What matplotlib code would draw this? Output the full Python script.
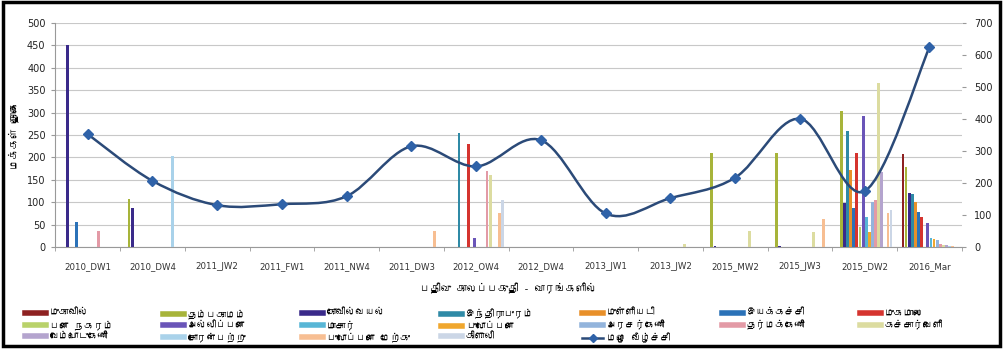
import numpy as np
import matplotlib
matplotlib.use("Agg")
import matplotlib.pyplot as plt
from matplotlib import font_manager
from matplotlib.ft2font import FT2Font
from matplotlib.path import Path
from matplotlib.patches import PathPatch, Rectangle
from matplotlib.lines import Line2D

# ---------------- data ----------------
periods = ["2010_DW1", "2010_DW4", "2011_JW2", "2011_FW1", "2011_NW4", "2011_DW3",
           "2012_OW4", "2012_DW4", "2013_JW1", "2013_JW2", "2015_MW2", "2015_JW3",
           "2015_DW2", "2016_Mar"]

villages = ["முகாவில்", "தம்பகாமம்", "கோவில்வயல்", "இந்திராபுரம்", "முள்ளியடி",
            "இயக்கச்சி", "முகமாலை", "பளை நகரம்", "அல்லிப்பளை", "மாசார்",
            "புலோப்பளை", "அரசர்கேணி", "தர்மக்கேணி", "கச்சார்வெளி",
            "வேம்பொடுகேணி", "சோரன்பற்று", "புலோப்பளை மேற்கு", "கிளாலி"]

mukavil        = [0, 0, 0, 0, 0, 0, 0, 0, 0, 0, 0, 0, 0, 207]
thampakamam    = [0, 107, 0, 0, 0, 0, 0, 0, 0, 0, 210, 210, 304, 178]
kovilvayal     = [450, 88, 0, 0, 0, 0, 0, 0, 0, 0, 3, 3, 98, 121]
inthirapuram   = [0, 0, 0, 0, 0, 0, 255, 0, 0, 0, 0, 0, 258, 119]
mulliyadi      = [0, 0, 0, 0, 0, 0, 0, 0, 0, 0, 0, 0, 172, 100]
iyakachchi     = [55, 0, 0, 0, 0, 0, 0, 0, 0, 0, 0, 0, 87, 78]
muhamalai      = [0, 0, 0, 0, 0, 0, 230, 0, 0, 0, 0, 0, 210, 68]
pallai_town    = [0, 0, 0, 0, 0, 0, 0, 0, 0, 0, 0, 0, 45, 0]
allipalai      = [0, 0, 0, 0, 0, 0, 20, 0, 0, 0, 0, 0, 292, 54]
maasaar        = [0, 0, 0, 0, 0, 0, 0, 0, 0, 0, 0, 0, 68, 21]
pulopalai      = [0, 0, 0, 0, 0, 0, 0, 0, 0, 0, 0, 0, 34, 19]
arasarkerni    = [0, 0, 0, 0, 0, 0, 0, 0, 0, 0, 0, 0, 101, 15]
tharmakerni    = [35, 0, 0, 0, 0, 0, 170, 0, 0, 0, 0, 0, 105, 8]
kacharvely     = [0, 0, 0, 0, 0, 0, 160, 0, 0, 8, 35, 33, 366, 5]
vempodukerni   = [0, 0, 0, 0, 0, 0, 0, 0, 0, 0, 0, 0, 168, 4]
soranpattu     = [0, 203, 0, 0, 0, 0, 0, 0, 0, 0, 0, 0, 0, 3]
pulopalai_west = [0, 0, 0, 0, 0, 37, 76, 0, 0, 0, 0, 62, 77, 2]
kilali         = [0, 0, 0, 0, 0, 0, 105, 0, 0, 0, 0, 0, 82, 1]

series = [mukavil, thampakamam, kovilvayal, inthirapuram, mulliyadi, iyakachchi,
          muhamalai, pallai_town, allipalai, maasaar, pulopalai, arasarkerni,
          tharmakerni, kacharvely, vempodukerni, soranpattu, pulopalai_west, kilali]

rainfall = [353, 207, 131, 134, 159, 315, 252, 334, 105, 153, 217, 401, 175, 624]
rain_label = "மழை வீழ்ச்சி"

colors = ["#8E2121", "#A7B43A", "#3A2A8A", "#2F8AA6", "#E8902A", "#2B72B8",
          "#D5342F", "#B9D26A", "#6A55B8", "#58B6D6", "#F0A72E", "#93B4DC",
          "#E39AA6", "#DCDCA0", "#B4A4CE", "#A9D2EA", "#F7BE92", "#CBD6E6"]

# ---------------- fonts ----------------
def find_family(codepoint):
    for f in font_manager.fontManager.ttflist:
        try:
            if FT2Font(f.fname).get_char_index(codepoint):
                return f.name
        except Exception:
            pass
    return None

tamil = find_family(0x0BAE)
families = ([tamil] if tamil else []) + ["DejaVu Sans"]
plt.rcParams["font.family"] = families

# ---------------- figure ----------------
W, H = 1005, 349
fig = plt.figure(figsize=(W / 100, H / 100), dpi=100)
fig.subplots_adjust(left=0.055, right=0.957, bottom=0.292, top=0.934)
ax = fig.add_subplot(111)
ax2 = ax.twinx()

x = np.arange(len(periods))
n = len(series)
w = 0.048
for i, (vals, c, name) in enumerate(zip(series, colors, villages)):
    ax.bar(x + (i - (n - 1) / 2) * w, vals, width=w * 0.9, color=c,
           label=name, zorder=3, linewidth=0)

ax.set_xlim(-0.5, len(periods) - 0.5)
ax.set_ylim(0, 500)
ax.set_yticks(np.arange(0, 501, 50))
ax.set_xticks(x)
ax.set_xticklabels(periods, fontsize=6.2, color="#333333", family="DejaVu Sans")
ax.set_xticks(np.arange(-0.5, len(periods), 1), minor=True)
ax.tick_params(axis="x", which="major", length=0, pad=11)
ax.tick_params(axis="x", which="minor", length=3, color="#999999")
ax.tick_params(axis="y", labelsize=7, length=3, color="#999999", pad=4,
               labelcolor="#222222")
for t in ax.get_yticklabels():
    t.set_family("DejaVu Sans")
ax.grid(axis="y", color="#C8C8C8", linewidth=0.8, zorder=0)
for s in ["top", "right"]:
    ax.spines[s].set_visible(False)
ax.spines["left"].set_color("#999999")
ax.spines["bottom"].set_color("#999999")

# rainfall: smoothed line on the secondary axis
ax2.set_ylim(0, 700)
ax2.set_yticks(np.arange(0, 701, 100))
ax2.tick_params(axis="y", labelsize=7, length=3, color="#999999", pad=6,
                labelcolor="#222222")
for t in ax2.get_yticklabels():
    t.set_family("DejaVu Sans")
for s in ["top", "left", "bottom", "right"]:
    ax2.spines[s].set_visible(False)

pts = np.column_stack([x, rainfall]).astype(float)
ext = np.vstack([pts[0], pts, pts[-1]])
verts = [tuple(pts[0])]
codes = [Path.MOVETO]
for k in range(len(pts) - 1):
    p0, p1, p2, p3 = ext[k], ext[k + 1], ext[k + 2], ext[k + 3]
    c1 = p1 + (p2 - p0) / 6.0
    c2 = p2 - (p3 - p1) / 6.0
    verts += [tuple(c1), tuple(c2), tuple(p2)]
    codes += [Path.CURVE4] * 3
ax2.add_patch(PathPatch(Path(verts, codes), facecolor="none",
                        edgecolor="#2B4A78", linewidth=1.8, zorder=4))
ax2.plot(x, rainfall, linestyle="none", marker="D", markersize=5,
         color="#2F62A8", zorder=5)

ax.set_ylabel("மக்கள் தொகை", fontsize=7.5, fontweight="bold", labelpad=6)
ax.set_xlabel("பதிவு காலப்பகுதி - வாரங்களில்", fontsize=7.5,
              fontweight="bold", labelpad=8)

# legend: 7 evenly spaced columns, filled row by row
handles = [Line2D([], [], color=c, linewidth=4) for c in colors]
handles.append(Line2D([], [], color="#2B4A78", linewidth=1.8, marker="D",
                      markersize=4, markerfacecolor="#2F62A8",
                      markeredgecolor="#2F62A8"))
labels = villages + [rain_label]
ncol = 7
col_x = [25, 163, 302, 441, 582, 722, 860]
for c in range(ncol):
    idx = list(range(c, len(labels), ncol))
    fig.legend([handles[k] for k in idx], [labels[k] for k in idx],
               loc="upper left", bbox_to_anchor=(col_x[c] / W, 1 - 309 / H),
               frameon=False, fontsize=7, handlelength=2.2, handletextpad=0.35,
               labelspacing=0.28, borderpad=0, borderaxespad=0)

# outer frame
fig.add_artist(Rectangle((0.003, 0.008), 0.992, 0.985, transform=fig.transFigure,
                         fill=False, edgecolor="black", linewidth=2.5))

fig.savefig("out.png", dpi=100)
